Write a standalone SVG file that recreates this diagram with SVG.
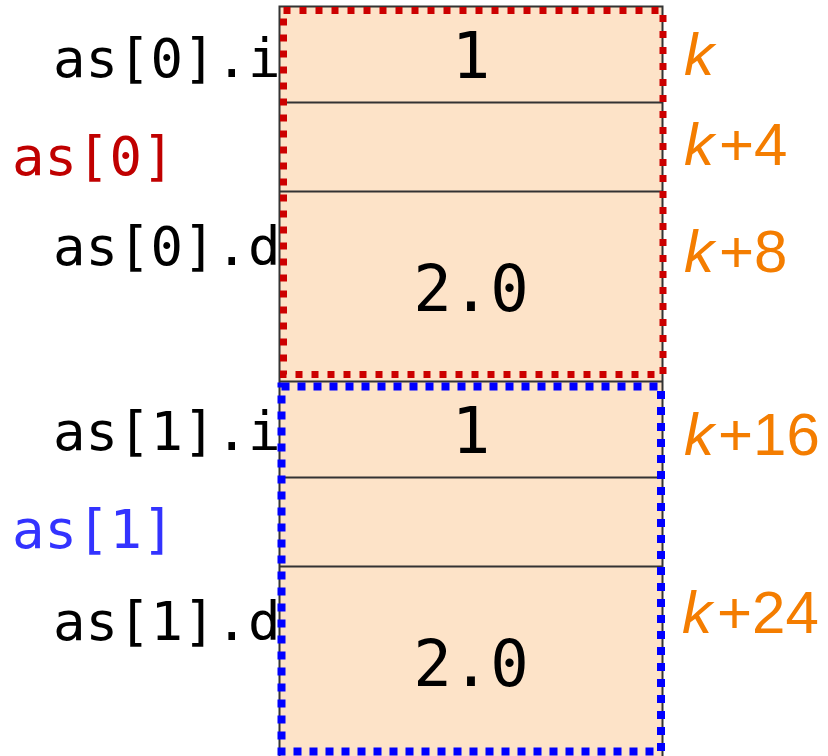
<svg xmlns="http://www.w3.org/2000/svg" width="828" height="756" viewBox="0 0 828 756">
<style>
.cell{fill:#fde3c8;stroke:none}
.frame{fill:none;stroke:#333333;stroke-width:2}
.div{stroke:#333333;stroke-width:2}
.val{font-family:"DejaVu Sans Mono",monospace;font-size:64px;fill:#000;text-anchor:middle}
.lbl{font-family:"DejaVu Sans Mono",monospace;font-size:54px;fill:#000}
.addr{font-family:"Liberation Sans",Arial,sans-serif;font-size:60px;fill:#f47d00}
.red{fill:none;stroke:#cc0000;stroke-width:7;stroke-dasharray:7 9}
.blue{fill:none;stroke:#0000ff;stroke-width:8;stroke-dasharray:8 8}
</style>
<g id="memory">
<rect class="cell" x="279.5" y="6.5" width="383" height="750"/>
<line class="div" x1="279.5" y1="102.5" x2="662.5" y2="102.5"/>
<line class="div" x1="279.5" y1="191.5" x2="662.5" y2="191.5"/>
<line class="div" x1="279.5" y1="381.5" x2="662.5" y2="381.5"/>
<line class="div" x1="279.5" y1="477.5" x2="662.5" y2="477.5"/>
<line class="div" x1="279.5" y1="566.5" x2="662.5" y2="566.5"/>
<rect class="frame" x="279.5" y="6.5" width="383" height="752"/>
</g>
<g id="values">
<text class="val" x="471" y="78">1</text>
<text class="val" x="471" y="311">2.0</text>
<text class="val" x="471" y="453">1</text>
<text class="val" x="471" y="686">2.0</text>
</g>
<g id="as0">
<rect class="red" x="283.5" y="10.5" width="379.5" height="364"/>
<text class="lbl" x="53" y="77">as[0].i</text>
<text class="lbl" x="12" y="175" style="fill:#c00000">as[0]</text>
<text class="lbl" x="53" y="265">as[0].d</text>
</g>
<g id="as1">
<rect class="blue" x="281.5" y="386.5" width="379.5" height="365"/>
<text class="lbl" x="53" y="450">as[1].i</text>
<text class="lbl" x="12" y="548" style="fill:#3333ff">as[1]</text>
<text class="lbl" x="53" y="640">as[1].d</text>
</g>
<g id="addresses">
<text class="addr" x="684" y="75"><tspan font-style="italic">k</tspan></text>
<text class="addr" x="684" y="165"><tspan font-style="italic">k</tspan><tspan dx="5">+4</tspan></text>
<text class="addr" x="684" y="272"><tspan font-style="italic">k</tspan><tspan dx="5">+8</tspan></text>
<text class="addr" x="684" y="455"><tspan font-style="italic">k</tspan><tspan dx="4">+16</tspan></text>
<text class="addr" x="682" y="633"><tspan font-style="italic">k</tspan><tspan dx="5">+24</tspan></text>
</g>
<g id="connectors"></g>
</svg>
